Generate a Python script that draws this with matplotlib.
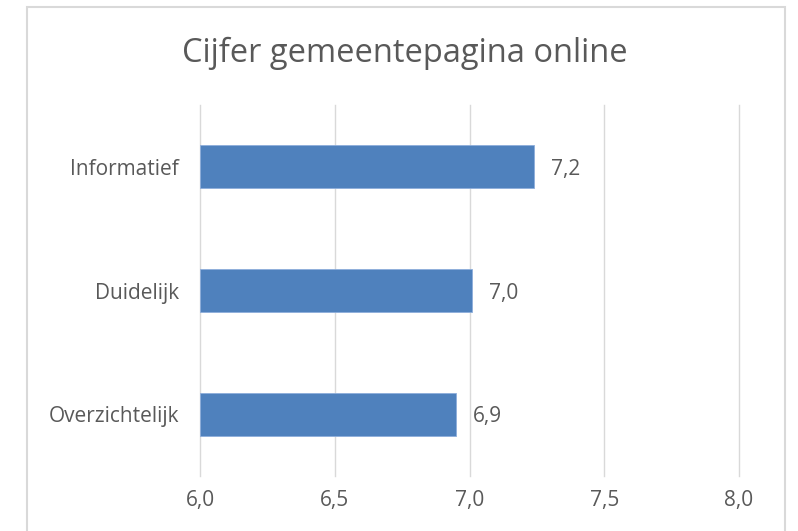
import matplotlib
matplotlib.use("Agg")
import matplotlib.pyplot as plt
from matplotlib.patches import Rectangle

categories = ["Overzichtelijk", "Duidelijk", "Informatief"]
scores = [6.95, 7.01, 7.24]
score_labels = ["6,9", "7,0", "7,2"]
x_ticks = [6.0, 6.5, 7.0, 7.5, 8.0]
x_tick_labels = ["6,0", "6,5", "7,0", "7,5", "8,0"]

text_color = "#595959"
bar_color = "#4f81bd"
grid_color = "#d9d9d9"

plt.rcParams["font.family"] = ["Open Sans", "DejaVu Sans"]

fig = plt.figure(figsize=(7.98, 5.31), dpi=100)
ax = fig.add_axes([200 / 798, 55 / 531, 539 / 798, 371 / 531])

# chart frame like the Excel border
fig.patches.append(Rectangle((27 / 798, -0.1), 758 / 798, 1.1 - 7 / 531,
                             transform=fig.transFigure, fill=False,
                             edgecolor=grid_color, linewidth=1.5))

ax.barh(range(len(categories)), [s - 6.0 for s in scores], left=6.0,
        height=0.35, color=bar_color, edgecolor="#8eaedb", linewidth=0.6, zorder=3)

for i, (s, lab) in enumerate(zip(scores, score_labels)):
    ax.annotate(lab, (s, i), xytext=(12, -2), textcoords="offset points",
                va="center", ha="left", fontsize=15, color=text_color)

ax.set_xlim(6.0, 8.0)
ax.set_ylim(-0.5, len(categories) - 0.5)
ax.set_xticks(x_ticks)
ax.set_xticklabels(x_tick_labels)
ax.set_yticks(range(len(categories)))
ax.set_yticklabels(categories)
ax.tick_params(axis="both", length=0, labelsize=15, labelcolor=text_color)
ax.tick_params(axis="x", pad=10)
ax.tick_params(axis="y", pad=15)
ax.grid(axis="x", color=grid_color, linewidth=1, zorder=0)
for line in ax.get_xgridlines():
    line.set_clip_on(False)
for sp in ax.spines.values():
    sp.set_visible(False)

fig.text(405 / 798, 1 - 53 / 531, "Cijfer gemeentepagina online", ha="center",
         va="center", fontsize=23.5, color=text_color)

fig.savefig("out.png", dpi=100)
